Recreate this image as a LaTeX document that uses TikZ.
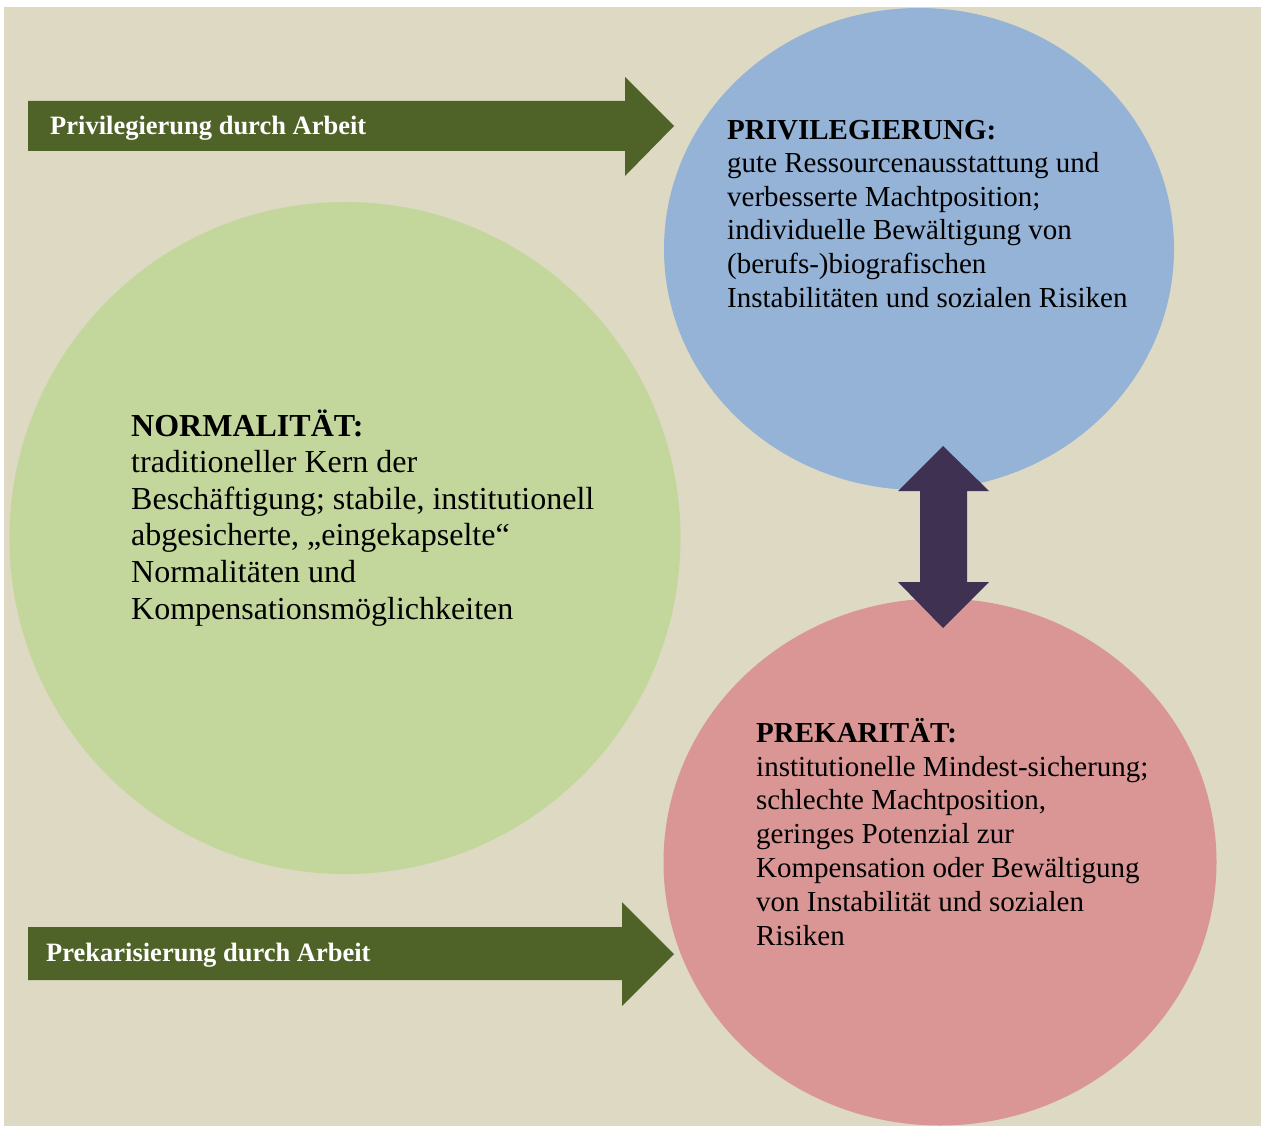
\documentclass[tikz,border=0pt]{standalone}
\usepackage{fontspec}
\setmainfont{Liberation Serif}
\usetikzlibrary{positioning}
\usetikzlibrary{shapes}

\definecolor{beige}{HTML}{DDD9C3}
\definecolor{olive}{HTML}{4F6228}
\definecolor{privblue}{HTML}{95B3D7}
\definecolor{normgreen}{HTML}{C3D69B}
\definecolor{prekrose}{HTML}{D99694}
\definecolor{darkviolet}{HTML}{3F3151}

\begin{document}
\begin{tikzpicture}[x=1pt,y=-1pt,
	blob/.style={ellipse,inner sep=0pt,draw=none},
	circletext/.style={anchor=base west,align=left,inner sep=0pt,text=black},
	arrowtext/.style={anchor=base west,inner sep=0pt,text=white,font=\fontsize{26.5}{30}\selectfont\bfseries}]
	%frame
	\useasboundingbox (0,0) rectangle (1261,1126);
	\fill[beige] (4,7) rectangle (1261,1126);
	% the three fields
	\node[blob,fill=privblue,minimum width=510pt,minimum height=482pt] (privileg) at (919,249){};
	\node[blob,fill=normgreen,minimum width=671pt,minimum height=672pt] (normal) at (345,538){};
	\node[blob,fill=prekrose,minimum width=553pt,minimum height=527pt] (prekar) at (940,862){};
	% texts (base = last line)
	\node[circletext,font=\fontsize{29}{33.6}\selectfont] (privtext) at (727,307)
		{\textbf{PRIVILEGIERUNG:}\\gute Ressourcenausstattung und\\verbesserte Machtposition;\\individuelle Bewältigung von\\(berufs-)biografischen\\Instabilitäten und sozialen Risiken};
	\node[circletext,font=\fontsize{32}{36.6}\selectfont] (normtext) at (131,619)
		{\textbf{NORMALITÄT:}\\traditioneller Kern der\\Beschäftigung; stabile, institutionell\\abgesicherte, „eingekapselte“\\Normalitäten und\\Kompensationsmöglichkeiten};
	\node[circletext,font=\fontsize{29}{33.8}\selectfont] (prektext) at (756,945)
		{\textbf{PREKARITÄT:}\\institutionelle Mindest-sicherung;\\schlechte Machtposition,\\geringes Potenzial zur\\Kompensation oder Bewältigung\\von Instabilität und sozialen\\Risiken};
	% arrows from the left
	\fill[olive] (28,101) -- (625,101) -- (625,77) -- (674,126) -- (625,176) -- (625,151) -- (28,151) -- cycle;
	\node[arrowtext] (privarrow) at (50,135) {Privilegierung durch Arbeit};
	\fill[olive] (28,927) -- (622,927) -- (622,902) -- (674,954) -- (622,1006) -- (622,980) -- (28,980) -- cycle;
	\node[arrowtext] (prekarrow) at (46,961) {Prekarisierung durch Arbeit};
	% double arrow between privileg and prekar
	\coordinate (up) at (943,446);
	\coordinate (down) at (943,628);
	\fill[darkviolet] (up) -- ++(46,45) -- ++(-22,0) -- ++(0,91) -- ++(22,0) -- (down)
		-- ++(-45,-46) -- ++(22,0) -- ++(0,-91) -- ++(-22,0) -- cycle;
\end{tikzpicture}
\end{document}
